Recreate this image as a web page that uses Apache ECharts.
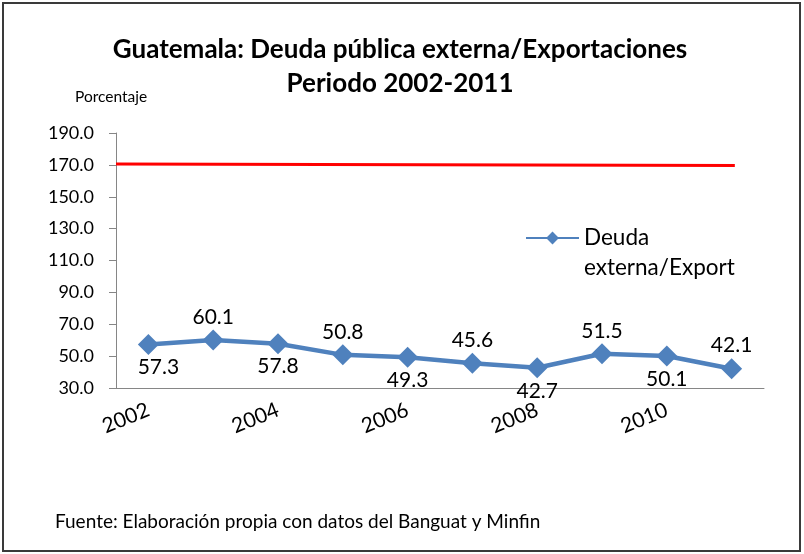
<!DOCTYPE html>
<html>
<head>
<meta charset="utf-8">
<script src="https://cdn.jsdelivr.net/npm/echarts@6/dist/echarts.min.js"></script>
<style>html,body{margin:0;padding:0;background:#fff}#c{width:804px;height:554px}</style>
</head>
<body>
<div id="c"></div>
<script>
var years = ['2002','2003','2004','2005','2006','2007','2008','2009','2010','2011'];
var deudaExport = [57.3, 60.1, 57.8, 50.8, 49.3, 45.6, 42.7, 51.5, 50.1, 42.1];
var limitePos = [0, 9.55];
var limiteValues = [170.6, 169.6];
var yTicks = [30, 50, 70, 90, 110, 130, 150, 170, 190];

var F = 'Lato, "Noto Sans", sans-serif';
var chart = echarts.init(document.getElementById('c'), null, {renderer: 'canvas'});
var blueData = deudaExport.map(function (v, i) {
  return {value: v, label: {position: i % 2 === 0 ? 'bottom' : 'top', offset: i === 0 ? [10, 0] : [0, 0]}};
});
chart.setOption({
  animation: false,
  backgroundColor: '#fff',
  title: {
    text: 'Guatemala: Deuda pública externa/Exportaciones\nPeriodo 2002-2011',
    left: 395, textAlign: 'center', top: 28,
    textStyle: {fontFamily: F, fontWeight: 'bold', fontSize: 26, lineHeight: 34, color: '#000'}
  },
  graphic: [
    {type: 'rect', shape: {x: 3, y: 3, width: 797, height: 548}, style: {fill: 'none', stroke: '#3a3a3a', lineWidth: 2}, silent: true},
    {type: 'text', left: 75, top: 89, style: {text: 'Porcentaje', font: '15.5px ' + F, fill: '#000'}},
    {type: 'text', left: 55, top: 512, style: {text: 'Fuente: Elaboración propia con datos del Banguat y Minfin', font: '19px ' + F, fill: '#000'}}
  ],
  legend: {
    left: 520, top: 188,
    itemWidth: 53, itemHeight: 16, itemGap: 0,
    data: ['Deuda externa/Export'],
    formatter: function (n) { return '\n' + n.replace(' ', '\n'); },
    textStyle: {fontFamily: F, fontSize: 22.5, lineHeight: 30, color: '#000'}
  },
  grid: {left: 116, right: 40, top: 133, bottom: 166},
  xAxis: [{
    type: 'category', data: years, boundaryGap: true,
    axisLine: {lineStyle: {color: '#868686', width: 1}},
    axisTick: {interval: 0, length: 7, lineStyle: {color: '#868686'}},
    axisLabel: {interval: 1, rotate: 22, margin: 21, fontFamily: F, fontSize: 21, color: '#000'}
  }, {
    type: 'value', min: 0, max: 10, show: false
  }],
  yAxis: {
    type: 'value', min: yTicks[0], max: yTicks[yTicks.length - 1], interval: 20,
    axisLine: {show: true, lineStyle: {color: '#868686'}},
    axisTick: {show: true, length: 7, lineStyle: {color: '#868686'}},
    splitLine: {show: false},
    axisLabel: {margin: 22, fontFamily: F, fontSize: 18, color: '#000', formatter: function (v) { return v.toFixed(1); }}
  },
  series: [{
    name: 'Limite', type: 'line', xAxisIndex: 1,
    data: limitePos.map(function (p, i) { return [p, limiteValues[i]]; }),
    symbol: 'none', lineStyle: {color: '#ff0000', width: 3}, silent: true
  }, {
    name: 'Deuda externa/Export', type: 'line', xAxisIndex: 0,
    data: blueData,
    symbol: 'diamond', symbolSize: 21,
    itemStyle: {color: '#4f81bd'},
    lineStyle: {color: '#4f81bd', width: 4.5},
    label: {show: true, distance: 2, fontFamily: F, fontSize: 21, color: '#000', formatter: function (p) { return p.value.toFixed(1); }}
  }]
});
</script>
</body>
</html>
